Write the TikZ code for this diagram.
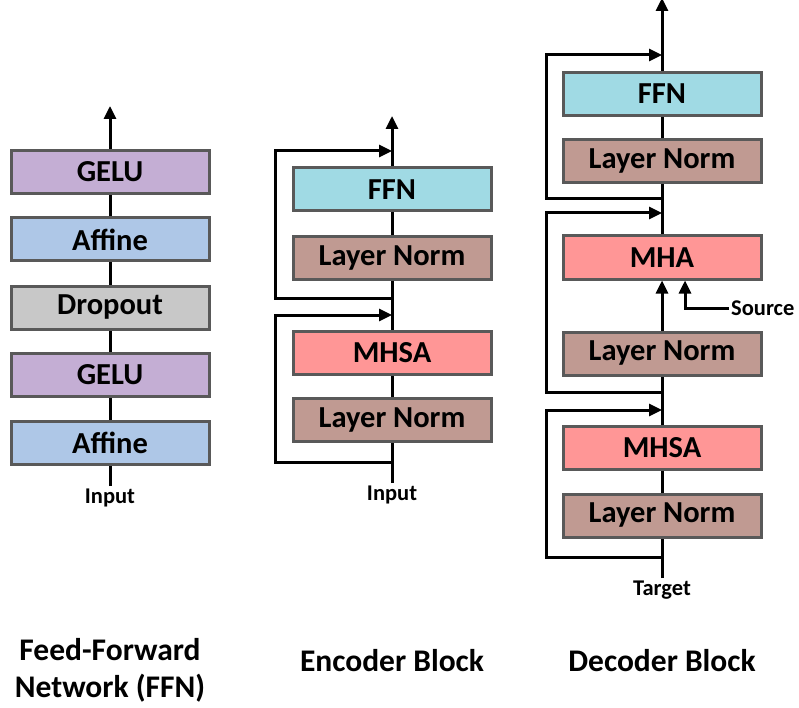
\documentclass[tikz,border=0pt]{standalone}
\usepackage{fontspec}
\setmainfont{Carlito}
\usetikzlibrary{arrows.meta}
\definecolor{geluc}{RGB}{196,174,212}
\definecolor{affinec}{RGB}{174,199,231}
\definecolor{dropc}{RGB}{200,200,200}
\definecolor{ffnc}{RGB}{160,218,228}
\definecolor{lnc}{RGB}{192,154,146}
\definecolor{attc}{RGB}{255,150,150}
\definecolor{edgec}{RGB}{89,89,89}
\tikzset{
  blk/.style={draw=edgec, line width=3pt, minimum width=198pt, minimum height=43pt,
    inner sep=0pt, font=\fontsize{30.5}{32}\selectfont\bfseries},
  conn/.style={line width=3pt, line join=miter},
  arr/.style={conn, -{Triangle[length=13pt,width=12pt]}},
  lbl/.style={font=\fontsize{22.5}{24}\selectfont\bfseries, inner sep=0pt},
  ttl/.style={font=\fontsize{31.5}{37}\selectfont\bfseries, align=center, inner sep=0pt},
}
\begin{document}
\begin{tikzpicture}[x=1pt,y=-1pt]
\useasboundingbox (0,0) rectangle (799,708);

% ---------- feed-forward network ----------
\node[blk, fill=affinec] (fa1) at (110,442.5) {Affine};
\node[blk, fill=geluc]   (fg1) at (110,375)   {GELU};
\node[blk, fill=dropc]   (fd)  at (110,307.5) {Dropout};
\node[blk, fill=affinec] (fa2) at (110,239.5) {Affine};
\node[blk, fill=geluc]   (fg2) at (110,172)   {GELU};
\node[lbl] (fin) at (110,498) {Input};
\coordinate (fbot) at (110,486);
\coordinate (ftop) at (110,106);
\draw[conn] (fbot) -- (fa1);
\draw[conn] (fa1) -- (fg1);
\draw[conn] (fg1) -- (fd);
\draw[conn] (fd) -- (fa2);
\draw[conn] (fa2) -- (fg2);
\draw[arr] (fg2) -- (ftop);
\node[ttl] (ftitle) at (110,670) {Feed-Forward\\Network (FFN)};

% ---------- encoder block ----------
\node[blk, fill=lnc]  (eln1) at (392,420)   {Layer Norm};
\node[blk, fill=attc] (emh)  at (392,352.5) {MHSA};
\node[blk, fill=lnc]  (eln2) at (392,258)   {Layer Norm};
\node[blk, fill=ffnc] (effn) at (392,189.5) {FFN};
\node[lbl] (ein) at (392,495) {Input};
\coordinate (ebot) at (392,483);
\coordinate (etop) at (392,116);
\coordinate (er1s) at (392,462);
\coordinate (er1e) at (392,315);
\coordinate (er2s) at (392,298);
\coordinate (er2e) at (392,151);
\draw[conn] (ebot) -- (eln1);
\draw[conn] (eln1) -- (emh);
\draw[conn] (emh) -- (eln2);
\draw[conn] (eln2) -- (effn);
\draw[arr] (effn) -- (etop);
\draw[arr] (er1s) -- (275,462) -- (275,315) -- (er1e);
\draw[arr] (er2s) -- (275,298) -- (275,151) -- (er2e);
\node[ttl] (etitle) at (392,661) {Encoder Block};

% ---------- decoder block ----------
\node[blk, fill=lnc]  (dln1) at (662,515.5) {Layer Norm};
\node[blk, fill=attc] (dmh)  at (662,448)   {MHSA};
\node[blk, fill=lnc]  (dln2) at (662,353.5) {Layer Norm};
\node[blk, fill=attc] (dca)  at (662,257.5) {MHA};
\node[blk, fill=lnc]  (dln3) at (662,161.5) {Layer Norm};
\node[blk, fill=ffnc] (dffn) at (662,94)    {FFN};
\node[lbl] (dtg) at (662,590) {Target};
\node[lbl, anchor=west] (dsrc) at (731,308) {Source};
\coordinate (dbot) at (662,578);
\coordinate (dtop) at (662,-2);
\coordinate (dsrcs) at (729,308);
\coordinate (dsrcc) at (685,308);
\coordinate (dr1s) at (662,557);
\coordinate (dr1e) at (662,410);
\coordinate (dr2s) at (662,392);
\coordinate (dr2e) at (662,213);
\coordinate (dr3s) at (662,199);
\coordinate (dr3e) at (662,55);
\draw[conn] (dbot) -- (dln1);
\draw[conn] (dln1) -- (dmh);
\draw[conn] (dmh) -- (dln2);
\draw[arr] (dln2) -- (dca);
\draw[conn] (dca) -- (dln3);
\draw[conn] (dln3) -- (dffn);
\draw[arr] (dffn) -- (dtop);
\draw[arr] (dsrcs) -- (dsrcc) -- (dsrcc |- dca.south);
\draw[arr] (dr1s) -- (546,557) -- (546,410) -- (dr1e);
\draw[arr] (dr2s) -- (546,392) -- (546,213) -- (dr2e);
\draw[arr] (dr3s) -- (546,199) -- (546,55) -- (dr3e);
\node[ttl] (dtitle) at (662,661) {Decoder Block};
\end{tikzpicture}
\end{document}
